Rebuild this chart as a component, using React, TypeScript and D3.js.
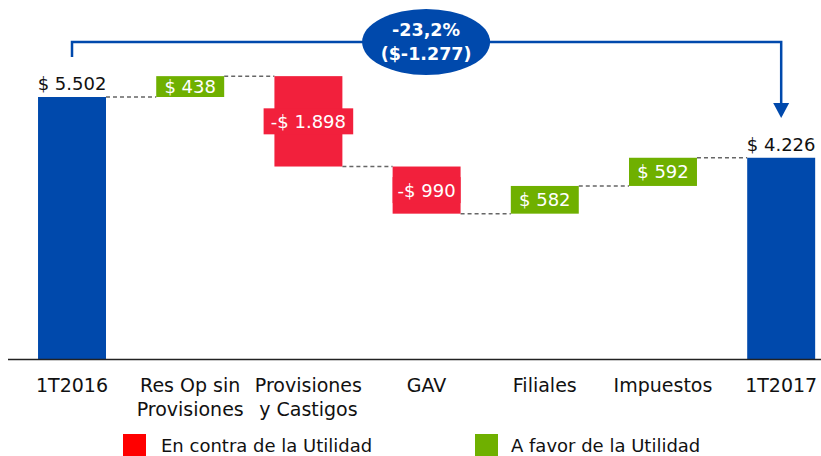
import React from "react";
import * as d3 from "d3";

const categories: string[][] = [
  ["1T2016"],
  ["Res Op sin", "Provisiones"],
  ["Provisiones", "y Castigos"],
  ["GAV"],
  ["Filiales"],
  ["Impuestos"],
  ["1T2017"],
];
const values: number[] = [5502, 438, -1898, -990, 582, 592, 4226];
const isTotal: boolean[] = [true, false, false, false, false, false, true];
const changePct = "-23,2%";
const changeAbs = "($-1.277)";
const legendLabels = ["En contra de la Utilidad", "A favor de la Utilidad"];

const BLUE = "#0049AC";
const GREEN = "#6FB000";
const RED = "#F2203C";
const FONT = "'DejaVu Sans', sans-serif";

const fmt = (v: number) => {
  const s = d3.format(",")(Math.abs(v)).replace(/,/g, ".");
  return (v < 0 ? "-$ " : "$ ") + s;
};

export default function App() {
  const W = 821;
  const H = 456;
  const x = d3
    .scaleBand<number>()
    .domain(d3.range(values.length))
    .range([-12.2, 865.4])
    .padding(0.425);
  const y = d3.scaleLinear().domain([0, 5502]).range([359, 97]);
  const bw = x.bandwidth();

  let run = 0;
  const bars = values.map((v, i) => {
    let y0: number, y1: number;
    if (isTotal[i]) {
      y0 = 0;
      y1 = v;
      run = v;
    } else {
      y0 = run;
      y1 = run + v;
      run = y1;
    }
    return { i, v, y0, y1, end: run };
  });

  const cx = (i: number) => (x(i) as number) + bw / 2;
  const first = cx(0);
  const last = cx(values.length - 1);
  const bracketY = 42;
  const midX = (first + last) / 2 - 0.5;

  return (
    <div style={{ position: "absolute", left: 0, top: 0 }}>
      <svg width={W} height={H} style={{ display: "block", fontFamily: FONT }}>
        <rect width={W} height={H} fill="#fff" />
        {bars.slice(0, -1).map((b) => (
          <line
            key={"c" + b.i}
            x1={(x(b.i) as number) + bw}
            x2={x(b.i + 1) as number}
            y1={y(b.end)}
            y2={y(b.end)}
            stroke="#666"
            strokeWidth={1.5}
            strokeDasharray="4,3"
          />
        ))}
        {bars.map((b) => {
          const top = y(Math.max(b.y0, b.y1));
          const bot = y(Math.min(b.y0, b.y1));
          const fill = isTotal[b.i] ? BLUE : b.v < 0 ? RED : GREEN;
          return (
            <rect key={"b" + b.i} x={x(b.i)} y={top} width={bw} height={bot - top} fill={fill} />
          );
        })}
        {bars.map((b) => {
          const top = y(Math.max(b.y0, b.y1));
          const bot = y(Math.min(b.y0, b.y1));
          const c = cx(b.i);
          if (isTotal[b.i]) {
            return (
              <text key={"l" + b.i} x={c} y={top - 7} textAnchor="middle" fontSize={18} fill="#111">
                {fmt(b.v)}
              </text>
            );
          }
          const mid = (top + bot) / 2;
          const label = fmt(b.v);
          const boxW = b.v < 0 ? Math.max(bw, label.length * 11.2) : bw;
          return (
            <g key={"l" + b.i}>
              {b.v < 0 && (
                <rect x={c - boxW / 2} y={mid - 13} width={boxW} height={26} fill={RED} />
              )}
              <text x={c} y={mid + 6.5} textAnchor="middle" fontSize={18} fill="#fff">
                {label}
              </text>
            </g>
          );
        })}
        <line x1={8} x2={W} y1={y(0) + 0.5} y2={y(0) + 0.5} stroke="#222" strokeWidth={1.6} />
        {categories.map((lines, i) => (
          <text key={"t" + i} x={cx(i)} textAnchor="middle" fontSize={19} fill="#111">
            {lines.map((ln, k) => (
              <tspan key={k} x={cx(i)} y={392 + k * 24}>
                {ln}
              </tspan>
            ))}
          </text>
        ))}
        <path
          d={`M${first},57 L${first},${bracketY} L${last},${bracketY} L${last},104`}
          fill="none"
          stroke={BLUE}
          strokeWidth={2.5}
        />
        <path d={`M${last - 8},103 L${last + 8},103 L${last},118 Z`} fill={BLUE} />
        <ellipse cx={midX} cy={bracketY} rx={64} ry={33} fill={BLUE} />
        <text x={midX} y={36} textAnchor="middle" fontSize={17.5} fontWeight="bold" fill="#fff">
          {changePct}
        </text>
        <text x={midX} y={60} textAnchor="middle" fontSize={17.5} fontWeight="bold" fill="#fff">
          {changeAbs}
        </text>
        <rect x={123} y={434} width={23} height={23} fill="#FF0000" />
        <text x={161} y={452} fontSize={18} fill="#111">
          {legendLabels[0]}
        </text>
        <rect x={475} y={434} width={23} height={23} fill={GREEN} />
        <text x={511} y={452} fontSize={18} fill="#111">
          {legendLabels[1]}
        </text>
      </svg>
    </div>
  );
}
